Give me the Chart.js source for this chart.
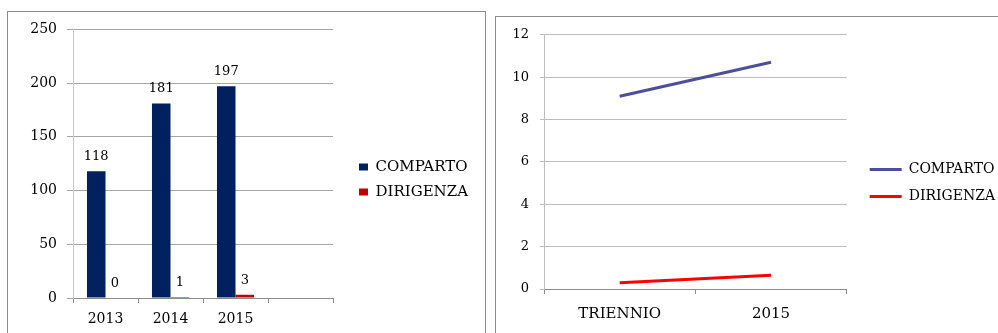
<!DOCTYPE html>
<html>
<head>
<meta charset="utf-8">
<script src="https://cdn.jsdelivr.net/npm/chart.js@4.4.1/dist/chart.umd.min.js"></script>
<style>
  body { margin: 0; background: #fff; width: 998px; height: 333px; overflow: hidden; position: relative; }
  .frame { position: absolute; border: 1px solid #8c8c8c; }
  canvas { position: absolute; }
</style>
</head>
<body>
<div class="frame" style="left:7px;top:11px;width:477px;height:340px"></div>
<div class="frame" style="left:495px;top:16px;width:540px;height:340px"></div>
<canvas id="barChart" width="479" height="322" style="left:7px;top:11px"></canvas>
<canvas id="lineChart" width="510" height="317" style="left:495px;top:16px"></canvas>
<script>
const barYears = ['2013', '2014', '2015', '']
const barComparto = [118, 181, 197]
const barDirigenza = [0, 1, 3]

const lineLabels = ['TRIENNIO', '2015']
const lineComparto = [9.1, 10.7]
const lineDirigenza = [0.3, 0.65]

Chart.defaults.font.family = '"DejaVu Serif", serif'
Chart.defaults.color = '#000'

// numbers above the bars
const valueLabels = {
  id: 'valueLabels',
  afterDatasetsDraw(chart) {
    const ctx = chart.ctx
    ctx.save()
    ctx.font = '13px "DejaVu Serif"'
    ctx.fillStyle = '#000'
    ctx.textAlign = 'center'
    ctx.textBaseline = 'bottom'
    chart.data.datasets.forEach((ds, i) => {
      chart.getDatasetMeta(i).data.forEach((bar, j) => {
        if (ds.data[j] == null) return
        ctx.fillText(ds.data[j], bar.x, bar.y - 8)
      })
    })
    ctx.restore()
  }
}

// empty axis used only as a gap between plot and legend
const spacer = (w) => ({
  position: 'right',
  display: true,
  grid: { display: false },
  border: { display: false },
  ticks: { display: false },
  afterFit(s) { s.width = w }
})

new Chart(document.getElementById('barChart'), {
  type: 'bar',
  data: {
    labels: barYears,
    datasets: [
      { label: 'COMPARTO', data: barComparto, backgroundColor: '#002060', categoryPercentage: 0.57, barPercentage: 1 },
      { label: 'DIRIGENZA', data: barDirigenza, backgroundColor: '#c00000', categoryPercentage: 0.57, barPercentage: 1 }
    ]
  },
  options: {
    responsive: false,
    animation: false,
    layout: { padding: { top: 15, right: 8, bottom: 0, left: 0 } },
    plugins: {
      tooltip: { enabled: false },
      legend: {
        position: 'right',
        maxWidth: 220,
        labels: { boxWidth: 9, boxHeight: 7, padding: 10, font: { size: 15 } }
      }
    },
    scales: {
      x: {
        grid: { drawOnChartArea: false, tickLength: 5, color: '#8c8c8c' },
        border: { color: '#8c8c8c' },
        ticks: { padding: 8, font: { size: 14 } },
        afterFit(s) { s.height = 35 }
      },
      y: {
        min: 0,
        max: 250,
        ticks: { stepSize: 50, padding: 10, font: { size: 14 } },
        grid: { color: '#a6a6a6', tickLength: 6 },
        border: { color: '#c8c8c8' },
        afterFit(s) { s.width = 66 }
      },
      yPad: spacer(16)
    }
  },
  plugins: [valueLabels]
})

new Chart(document.getElementById('lineChart'), {
  type: 'line',
  data: {
    labels: lineLabels,
    datasets: [
      { label: 'COMPARTO', data: lineComparto, borderColor: '#4f4f96', backgroundColor: '#4f4f96', borderWidth: 3, pointRadius: 0, pointStyle: 'line' },
      { label: 'DIRIGENZA', data: lineDirigenza, borderColor: '#ff0000', backgroundColor: '#ff0000', borderWidth: 3, pointRadius: 0, pointStyle: 'line' }
    ]
  },
  options: {
    responsive: false,
    animation: false,
    layout: { padding: { top: 17, right: 0, bottom: 0, left: 0 } },
    plugins: {
      tooltip: { enabled: false },
      legend: {
        position: 'right',
        maxWidth: 220,
        labels: { usePointStyle: true, pointStyle: 'line', pointStyleWidth: 32, padding: 13, font: { size: 14 } }
      }
    },
    scales: {
      x: {
        offset: true,
        grid: { offset: true, drawOnChartArea: false, tickLength: 5, color: '#8c8c8c' },
        border: { color: '#8c8c8c' },
        ticks: { padding: 11, font: { size: 15 } },
        afterFit(s) { s.height = 44 }
      },
      y: {
        min: 0,
        max: 12,
        ticks: { stepSize: 2, padding: 11, font: { size: 13 } },
        grid: { color: '#bdbdbd', tickLength: 4 },
        border: { color: '#bdbdbd' },
        afterFit(s) { s.width = 49 }
      },
      yPad: spacer(10)
    }
  }
})
</script>
</body>
</html>
